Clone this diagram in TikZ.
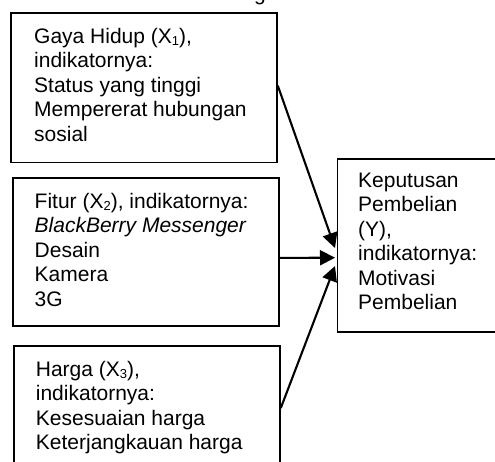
\documentclass[tikz,border=0pt]{standalone}
\usepackage{fontspec}
\setmainfont{Liberation Sans}
\usetikzlibrary{arrows.meta,calc}
\newcommand\subidx[1]{\raisebox{-2pt}{\fontsize{13}{13}\selectfont #1}}
\begin{document}
\begin{tikzpicture}[x=1pt,y=-1pt,
  boxstyle/.style={draw=black,line width=1.8pt,inner sep=0pt,anchor=north west},
  txtstyle/.style={anchor=base west,align=left,inner sep=0pt,font=\fontsize{21}{24.5}\selectfont},
  arr/.style={line width=2.1pt,-{Triangle[length=15pt,width=15pt]}}]
\useasboundingbox (0,0) rectangle (495,461);
\clip (0,0) rectangle (495,461);
\fill[white] (0,0) rectangle (495,461);
% partially visible title glyph
\node[txtstyle] (title) at (254,0.6) {g};
% boxes
\node[boxstyle,minimum width=266pt,minimum height=149.5pt] (b1) at (10,12) {};
\node[boxstyle,minimum width=266pt,minimum height=148pt] (b2) at (12,177) {};
\node[boxstyle,minimum width=266pt,minimum height=135pt] (b3) at (13,345) {};
\node[boxstyle,minimum width=174pt,minimum height=173pt] (by) at (336.5,158) {};
% texts (anchor = baseline of the last line)
\node[txtstyle] (t1) at (34,141.3) {Gaya Hidup (X\subidx{1}),\\indikatornya:\\Status yang tinggi\\Mempererat hubungan\\sosial};
\node[txtstyle] (t2) at (34.5,306.3) {Fitur (X\subidx{2}), indikatornya:\\\textit{BlackBerry Messenger}\\Desain\\Kamera\\3G};
\node[txtstyle] (t3) at (35.7,449.5) {Harga (X\subidx{3}),\\indikatornya:\\Kesesuaian harga\\Keterjangkauan harga};
\node[txtstyle] (ty) at (358,309.8) {Keputusan\\Pembelian\\(Y),\\indikatornya:\\Motivasi\\Pembelian};
% arrow end points on the left side of the Y box
\coordinate (e1) at ($(by.north west)+(-1.5,90)$);
\coordinate (e2) at ($(by.north west)+(-1.5,99.7)$);
\coordinate (e3) at ($(by.north west)+(-1.5,108)$);
\draw[arr] ([yshift=2pt]b1.east) -- (e1);
\draw[arr] ([yshift=-6pt]b2.east) -- (e2);
\draw[arr] ($(b3.north east)+(0,63)$) -- (e3);
\end{tikzpicture}
\end{document}
